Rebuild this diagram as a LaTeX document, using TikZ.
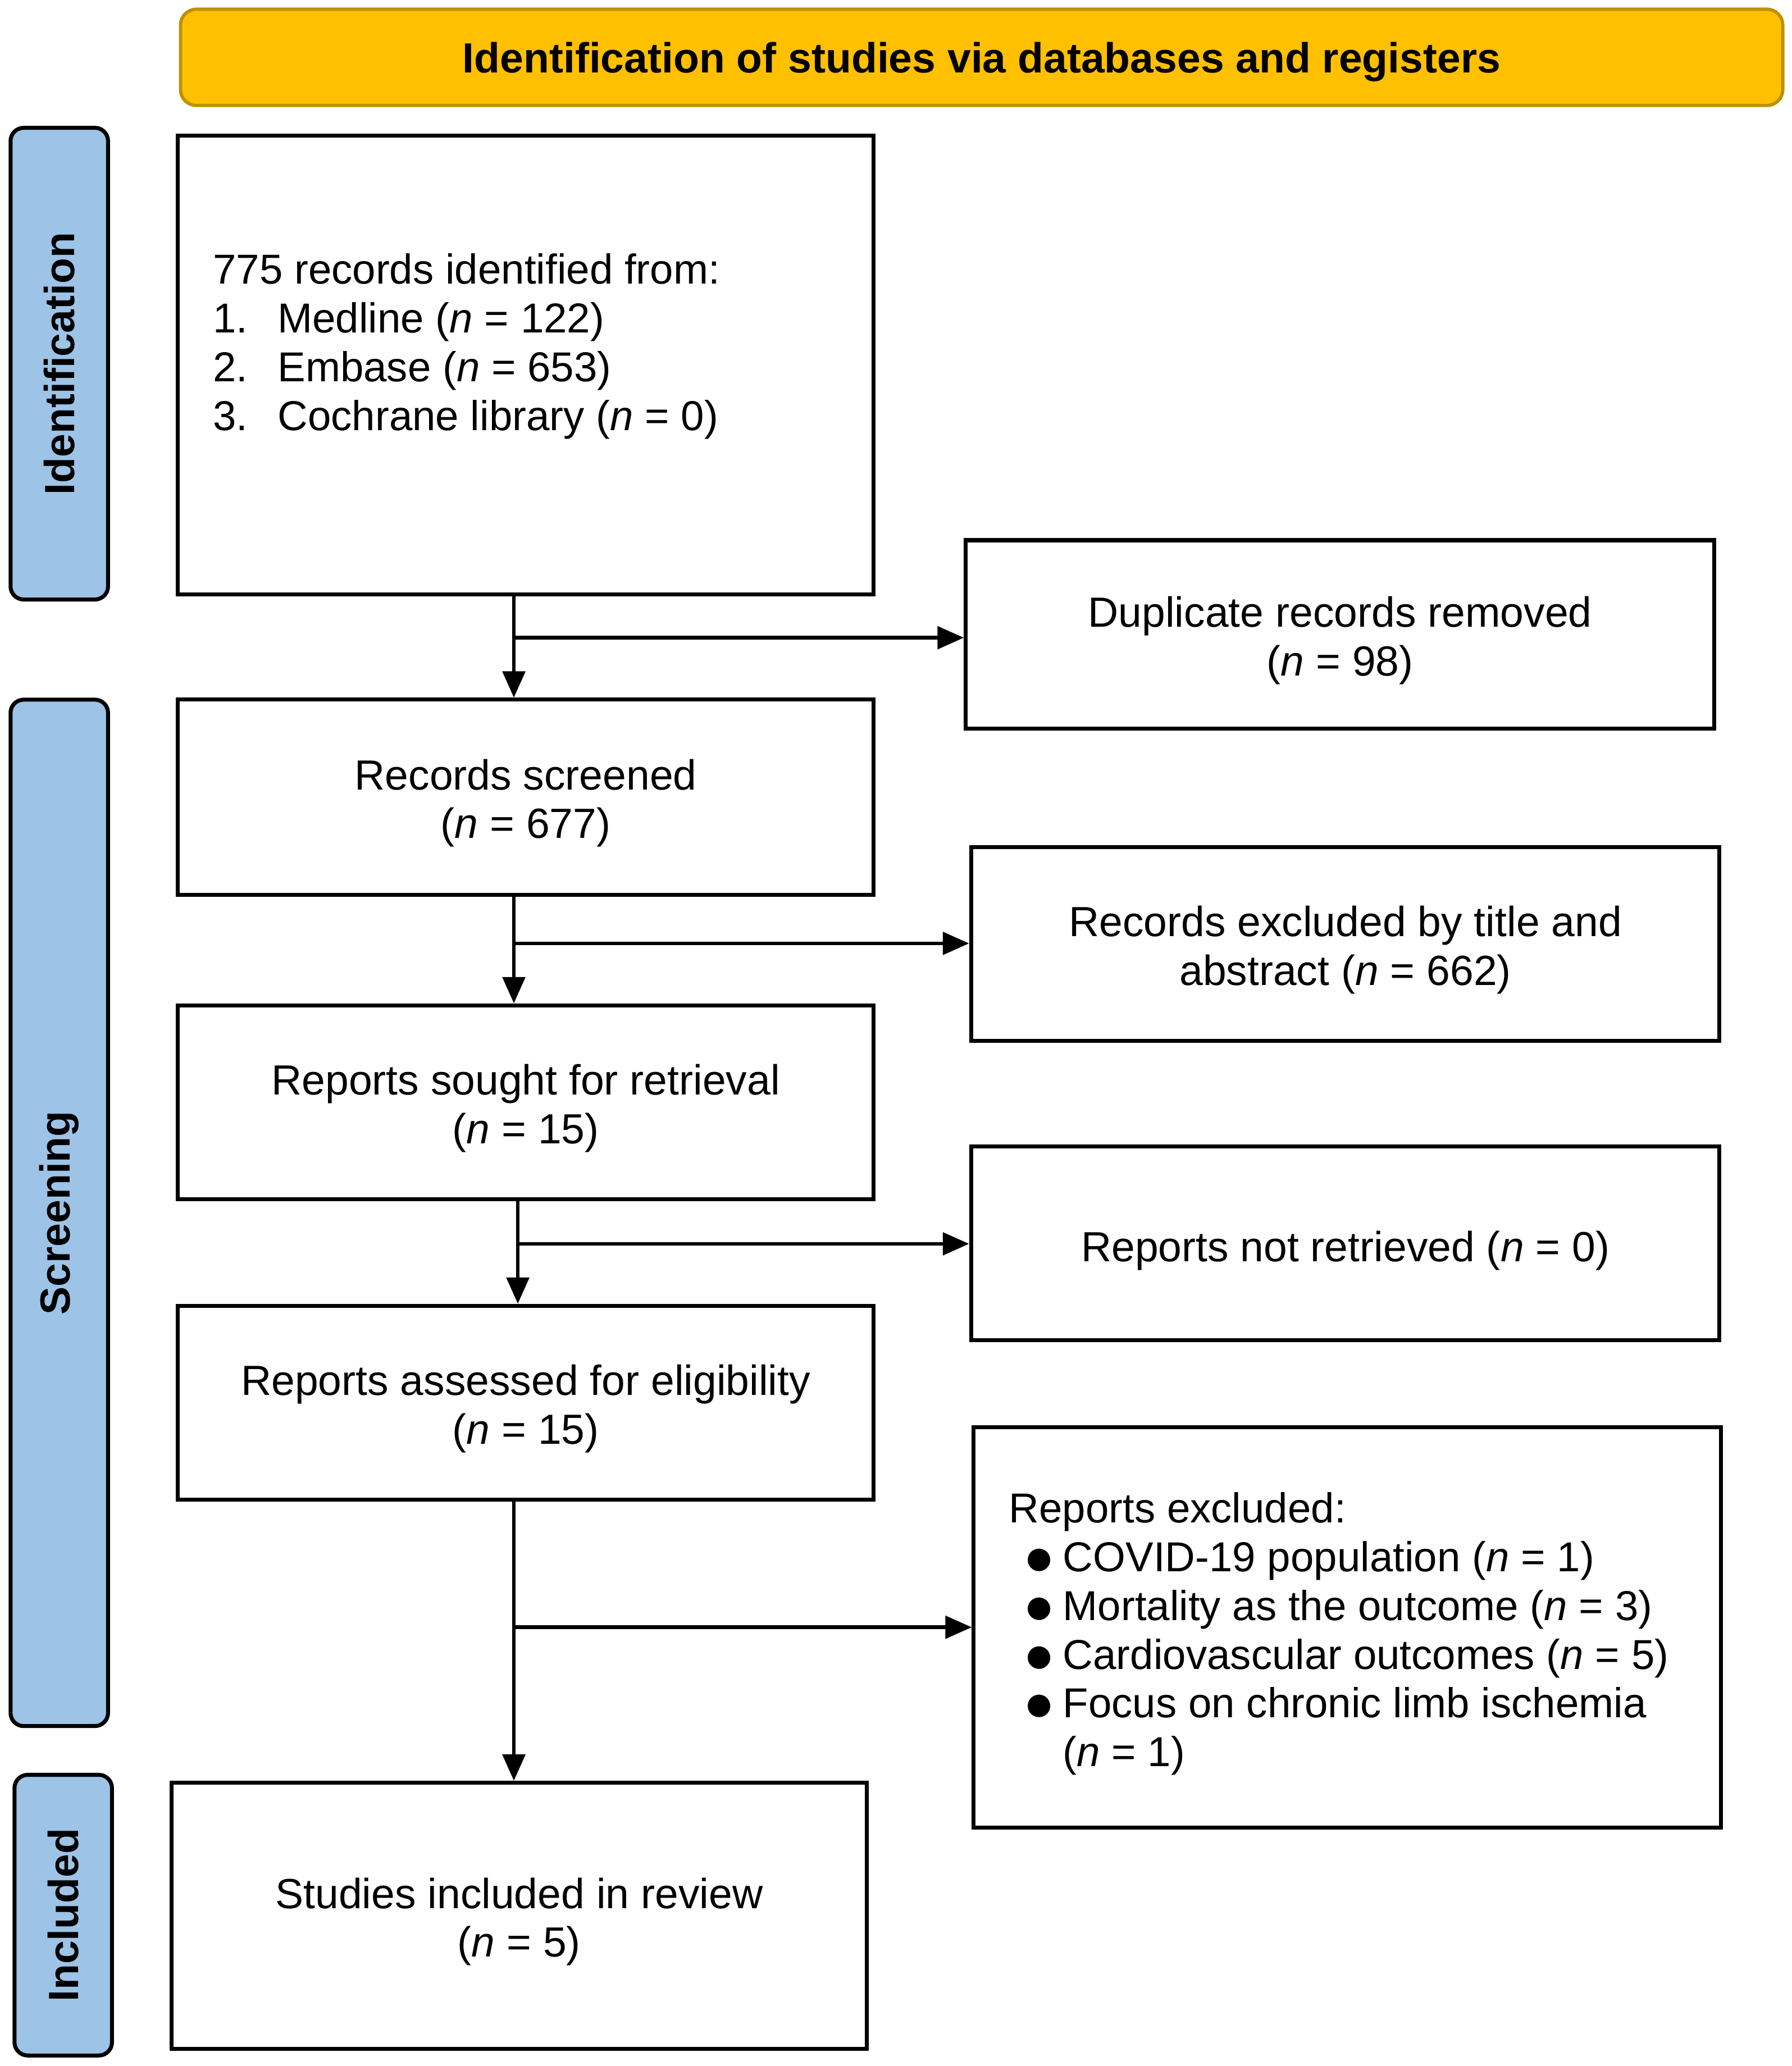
\documentclass[tikz,border=0pt]{standalone}
\usepackage{fontspec}
\setmainfont{Liberation Sans}
\usetikzlibrary{arrows.meta}
\definecolor{hdrfill}{HTML}{FFC000}
\definecolor{hdrline}{HTML}{BF9000}
\definecolor{sidefill}{HTML}{9DC3E6}
\newcommand{\bul}{\makebox[30pt][l]{\raisebox{-2.5pt}{\scalebox{1.25}{●}}}}
\tikzset{
  txt/.style={font=\fontsize{32}{37}\selectfont},
  ltxt/.style={font=\fontsize{31.75}{37}\selectfont, align=left, inner sep=0pt},
  ctxt/.style={txt, align=center, inner sep=0pt, yshift=-4.5pt},
  box/.style={draw=black, line width=3pt, fill=white, inner sep=0pt},
  side/.style={draw=black, line width=3pt, fill=sidefill, rounded corners=10pt, inner sep=0pt,
    minimum width=74pt},
  sidetxt/.style={rotate=90, font=\fontsize{32}{37}\selectfont\bfseries, inner sep=0pt},
  arr/.style={line width=2.8pt, -{Triangle[length=20pt,width=17pt]}}
}
\begin{document}
\begin{tikzpicture}[x=1pt,y=-1pt]
\useasboundingbox (0,0) rectangle (1360,1568);
% header
\node[draw=hdrline, line width=2.5pt, fill=hdrfill, rounded corners=12pt, minimum width=1216pt,
  minimum height=73pt, inner sep=0pt] (hdr) at (745,43.5) {};
\node[font=\fontsize{32}{37}\selectfont\bfseries, inner sep=0pt, yshift=-3.5pt] (hdrt) at (hdr.center)
  {Identification of studies via databases and registers};
% side bars
\node[side, minimum height=358pt] (sid) at (45,276) {};
\node[sidetxt] (sidt) at (sid.center) {Identification};
\node[side, minimum height=779pt] (sscr) at (45,920.5) {};
\node[sidetxt] (sscrt) at (sscr.center) {Screening};
\node[side, minimum height=213pt] (sinc) at (48,1453.5) {};
\node[sidetxt] (sinct) at (sinc.center) {Included};
% boxes
\node[box, minimum width=528pt, minimum height=348pt] (id) at (399,277) {};
\node[ltxt, anchor=west, xshift=28pt, yshift=-1pt] (idt) at (id.west)
  {775 records identified from:\\
   \makebox[49pt][l]{1.}Medline (\textit{n} = 122)\\
   \makebox[49pt][l]{2.}Embase (\textit{n} = 653)\\
   \makebox[49pt][l]{3.}Cochrane library (\textit{n} = 0)\\
   \mbox{}};
\node[box, minimum width=568pt, minimum height=143pt] (dup) at (1017,481.5) {};
\node[ctxt] (dupt) at (dup.center) {Duplicate records removed\\(\textit{n} = 98)};
\node[box, minimum width=528pt, minimum height=148pt] (scr) at (399,605) {};
\node[ctxt] (scrt) at (scr.center) {Records screened\\(\textit{n} = 677)};
\node[box, minimum width=568pt, minimum height=147pt] (exc1) at (1021,716.5) {};
\node[ctxt] (exc1t) at (exc1.center) {Records excluded by title and\\abstract (\textit{n} = 662)};
\node[box, minimum width=528pt, minimum height=147pt] (sought) at (399,836.5) {};
\node[ctxt] (soughtt) at (sought.center) {Reports sought for retrieval\\(\textit{n} = 15)};
\node[box, minimum width=568pt, minimum height=147pt] (notret) at (1021,943.5) {};
\node[ctxt, yshift=-1pt] (notrett) at (notret.center) {Reports not retrieved (\textit{n} = 0)};
\node[box, minimum width=528pt, minimum height=147pt] (assess) at (399,1064.5) {};
\node[ctxt] (assesst) at (assess.center) {Reports assessed for eligibility\\(\textit{n} = 15)};
\node[box, minimum width=567pt, minimum height=304pt] (exc2) at (1022.5,1235) {};
\node[ltxt, anchor=west, xshift=28pt, yshift=-5pt] (exc2t) at (exc2.west)
  {Reports excluded:\\
   \hspace*{11pt}\bul COVID-19 population (\textit{n} = 1)\\
   \hspace*{11pt}\bul Mortality as the outcome (\textit{n} = 3)\\
   \hspace*{11pt}\bul Cardiovascular outcomes (\textit{n} = 5)\\
   \hspace*{11pt}\bul Focus on chronic limb ischemia\\
   \hspace*{41pt}(\textit{n} = 1)};
\node[box, minimum width=528pt, minimum height=202pt] (incl) at (394,1454) {};
\node[ctxt] (inclt) at (incl.center) {Studies included in review\\(\textit{n} = 5)};
% connector coordinates
\coordinate (x1) at (390,484);
\coordinate (x2) at (390,716);
\coordinate (x3) at (393,944);
\coordinate (x4) at (390,1235);
% connectors
\draw[arr] (id.south -| x1) -- (scr.north -| x1);
\draw[arr] (x1) -- (dup.west |- x1);
\draw[arr] (scr.south -| x2) -- (sought.north -| x2);
\draw[arr] (x2) -- (exc1.west |- x2);
\draw[arr] (sought.south -| x3) -- (assess.north -| x3);
\draw[arr] (x3) -- (notret.west |- x3);
\draw[arr] (assess.south -| x4) -- (incl.north -| x4);
\draw[arr] (x4) -- (exc2.west |- x4);
\end{tikzpicture}
\end{document}
